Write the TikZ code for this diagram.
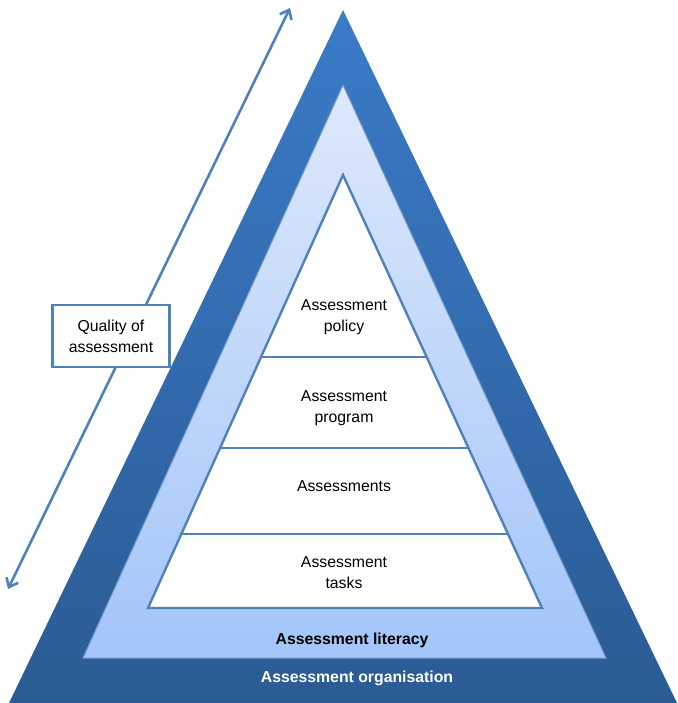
\documentclass[tikz,border=0pt]{standalone}
\usepackage{fontspec}
\setmainfont{Liberation Sans}
\usetikzlibrary{calc,arrows.meta}
\definecolor{PyrTop}{HTML}{3B7BC8}
\definecolor{PyrBottom}{HTML}{2B5B94}
\definecolor{LitTop}{HTML}{DEE9FB}
\definecolor{LitBottom}{HTML}{A3C5F9}
\definecolor{PyrLine}{HTML}{4F81BD}

\tikzset{
  layer/.style={font=\fontsize{15.8}{21}\selectfont,align=center},
  divider/.style={PyrLine,line width=2.4pt},
}

\begin{document}
\begin{tikzpicture}[x=1pt,y=-1pt]
\path[use as bounding box] (0,0) rectangle (677,703);
% corners of the three triangles
\coordinate (oa) at (343,10);
\coordinate (ol) at (9,703);
\coordinate (or) at (677,703);
\coordinate (ma) at (343,85);
\coordinate (ml) at (83,658);
\coordinate (mr) at (606,658);
\coordinate (ia) at (343,175);
\coordinate (il) at (148,608);
\coordinate (ir) at (542,608);
% organisation band
\shade[top color=PyrTop,bottom color=PyrBottom] (oa) -- (ol) -- (or) -- cycle;
% literacy band
\shade[top color=LitTop,bottom color=LitBottom,draw=PyrLine!80,line width=1pt] (ma) -- (ml) -- (mr) -- cycle;
% inner pyramid
\draw[divider,fill=white,line join=miter] (ia) -- (il) -- (ir) -- cycle;
\draw[divider] ($(ia)!0.420!(il)$) -- ($(ia)!0.420!(ir)$);
\draw[divider] ($(ia)!0.630!(il)$) -- ($(ia)!0.630!(ir)$);
\draw[divider] ($(ia)!0.829!(il)$) -- ($(ia)!0.829!(ir)$);
\node[layer] (policy) at (344,317) {Assessment\\policy};
\node[layer] (program) at (344,408) {Assessment\\program};
\node[layer] (assess) at (344,486) {Assessments};
\node[layer] (tasks) at (344,573) {Assessment\\tasks};
\node[layer,font=\fontsize{15.8}{21}\selectfont\bfseries] (literacy) at (352,640) {Assessment literacy};
\node[layer,font=\fontsize{15.8}{21}\selectfont\bfseries,text=white] (organisation) at (357,678) {Assessment organisation};
% quality axis
\coordinate (qtop) at (290,8);
\coordinate (qbot) at (8,589);
\draw[PyrLine,line width=2.6pt,{Straight Barb[length=8pt,width=13pt]}-{Straight Barb[length=8pt,width=13pt]}] (qbot) -- (qtop);
\node[layer,draw=PyrLine,line width=2.2pt,fill=white,minimum width=117pt,minimum height=62pt] (quality) at (111,336) {Quality of\\assessment};
\end{tikzpicture}
\end{document}
